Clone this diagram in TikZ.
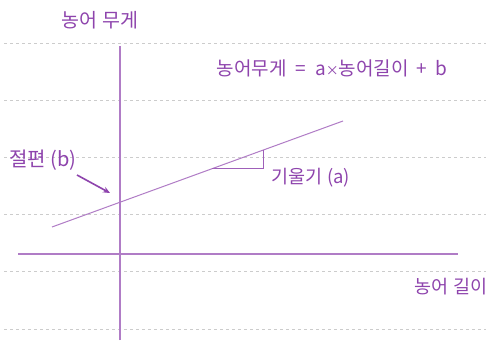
\documentclass[tikz,border=0pt]{standalone}
\usepackage{fontspec}
\newfontfamily\kr{Noto Sans CJK KR}
\usetikzlibrary{arrows.meta}
\definecolor{txtpurple}{HTML}{8E44AD}
\definecolor{linepurple}{HTML}{B07CC6}
\definecolor{gridgray}{HTML}{CCCCCC}
\tikzset{
  grid line/.style={gridgray, line width=1pt, dash pattern=on 3pt off 3pt},
  axis line/.style={linepurple, line width=1.1pt},
  lbl/.style={text=txtpurple, font=\kr\fontsize{18}{20}\selectfont, inner sep=0pt},
}
\begin{document}
\begin{tikzpicture}[x=1pt,y=-1pt]
\useasboundingbox[fill=white] (0,0) rectangle (488,342);
% grid
\foreach \yy in {44,101,158,215,272,329}
  \draw[grid line] (4,\yy) -- (486,\yy);
% axes
\coordinate (yb) at (120,340);
\coordinate (yt) at (120,46);
\coordinate (xl) at (18,254);
\coordinate (xr) at (458,254);
\draw[axis line] (yb) -- (yt);
\draw[axis line] (xl) -- (xr);
% regression line
\coordinate (r1) at (52,227);
\coordinate (r2) at (343,121);
\draw[linepurple, line width=1pt] (r1) -- (r2);
% slope triangle
\coordinate (t1) at (212,169);
\coordinate (t2) at (263,169);
\coordinate (t3) at (263,150);
\draw[txtpurple!85, line width=1pt] (t1) -- (t2) -- (t3);
% labels
\node[lbl, font=\kr\fontsize{19.5}{21}\selectfont] (ylab) at (100,20) {농어 무게};
\node[lbl, font=\kr\fontsize{19}{21}\selectfont] (eq) at (332,68) {농어무게\hspace{9pt}=\hspace{9pt}a{\fontsize{13}{14}\selectfont ×}농어길이\hspace{8pt}+\hspace{8pt}b};
\node[lbl, font=\kr\fontsize{20}{22}\selectfont] (b) at (43,160) {절편 (b)};
\node[lbl, font=\kr\fontsize{18.5}{20}\selectfont] (a) at (311,178) {기울기 (a)};
\node[lbl, font=\kr\fontsize{18.5}{20}\selectfont] (xlab) at (451,287) {농어 길이};
% arrow
\coordinate (as) at (77,175);
\coordinate (ae) at (110,193);
\draw[txtpurple, line width=1.6pt, -{Stealth[length=7pt,width=6pt]}] (as) -- (ae);
\end{tikzpicture}
\end{document}
